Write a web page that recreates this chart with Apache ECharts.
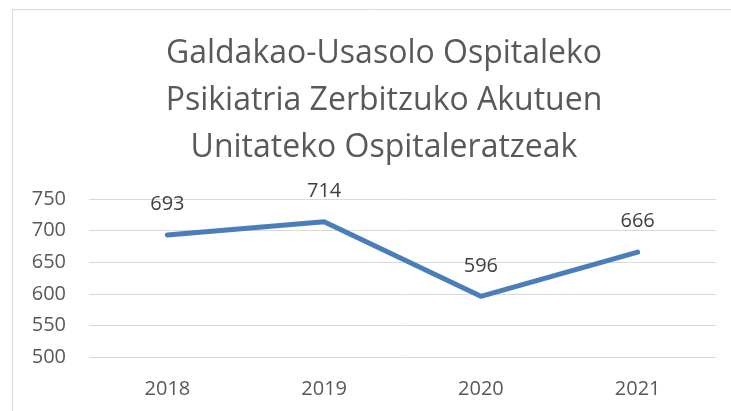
<!DOCTYPE html>
<html>
<head>
<meta charset="utf-8">
<style>
  html, body { margin: 0; padding: 0; background: #fff; }
  #chart { width: 731px; height: 411px; }
</style>
<script src="https://cdn.jsdelivr.net/npm/echarts@6/dist/echarts.min.js"></script>
</head>
<body>
<div id="chart"></div>
<script>
var years = ['2018', '2019', '2020', '2021'];
var admissions = [693, 714, 596, 666];
var yTicks = { min: 500, max: 750, step: 50 };
var titleLines = ['Galdakao-Usasolo Ospitaleko', 'Psikiatria Zerbitzuko Akutuen', 'Unitateko Ospitaleratzeak'];

var chart = echarts.init(document.getElementById('chart'));
var textGray = '#595959';
var font = 'Open Sans';

chart.setOption({
  animation: false,
  title: {
    text: titleLines.join('\n'),
    left: 379,
    textAlign: 'center',
    top: 25,
    textStyle: {
      color: textGray,
      fontFamily: font,
      fontWeight: 'normal',
      fontSize: 32,
      lineHeight: 47
    }
  },
  graphic: [{
    type: 'rect',
    shape: { x: 12.5, y: 9.5, width: 760, height: 450 },
    style: { fill: 'none', stroke: '#d9d9d9', lineWidth: 1 },
    silent: true
  }],
  grid: { left: 89, right: 15, top: 199, bottom: 54 },
  xAxis: {
    type: 'category',
    data: years,
    boundaryGap: true,
    axisLine: { show: false },
    axisTick: { show: false },
    axisLabel: { color: textGray, fontFamily: font, fontSize: 20, margin: 22 }
  },
  yAxis: {
    type: 'value',
    min: yTicks.min,
    max: yTicks.max,
    interval: yTicks.step,
    axisLine: { show: false },
    axisTick: { show: false },
    axisLabel: { color: textGray, fontFamily: font, fontSize: 20, margin: 23 },
    splitLine: { lineStyle: { color: '#d9d9d9', width: 1 } }
  },
  series: [{
    type: 'line',
    data: admissions,
    symbol: 'circle',
    symbolSize: 1,
    showSymbol: true,
    itemStyle: { color: 'rgba(0,0,0,0)' },
    lineStyle: { color: '#4a7ebb', width: 5, cap: 'round', join: 'round' },
    label: {
      show: true,
      position: 'top',
      distance: 20,
      color: '#404040',
      fontFamily: font,
      fontSize: 20
    }
  }]
});
</script>
</body>
</html>
